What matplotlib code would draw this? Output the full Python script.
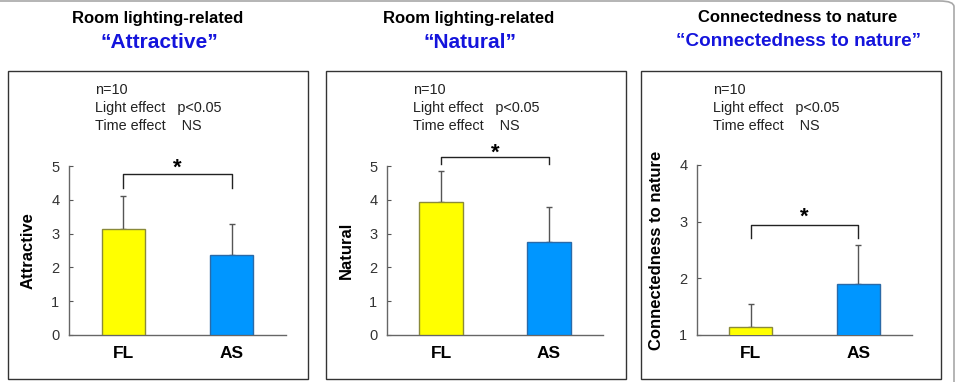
import matplotlib
matplotlib.use("Agg")
import matplotlib.pyplot as plt
from matplotlib.patches import Rectangle, FancyBboxPatch
import numpy as np

plt.rcParams['font.family'] = ['Liberation Sans', 'DejaVu Sans']

W, H = 959, 382

groups = ['FL', 'AS']
attractive_mean = [3.14, 2.37]
attractive_sd = [0.97, 0.90]
natural_mean = [3.93, 2.75]
natural_sd = [0.93, 1.04]
connect_mean = [1.15, 1.905]
connect_sd = [0.39, 0.685]

titles = ["Room lighting-related", "Room lighting-related", "Connectedness to nature"]
subtitles = ["\u201cAttractive\u201d", "\u201cNatural\u201d", "\u201cConnectedness to nature\u201d"]
subtitle_sizes = [15, 15, 13.6]
ylabels = ["Attractive", "Natural", "Connectedness to nature"]
means = [attractive_mean, natural_mean, connect_mean]
sds = [attractive_sd, natural_sd, connect_sd]
ylims = [(0, 5), (0, 5), (1, 4)]
yticks = [[0, 1, 2, 3, 4, 5], [0, 1, 2, 3, 4, 5], [1, 2, 3, 4]]
# bracket height, bracket drop, star y (data units)
brackets = [(4.76, 0.40, 4.93), (5.26, 0.21, 5.38), (2.94, 0.23, 3.08)]

bar_colors = ['#FFFF00', '#0096FF']
bar_edges = ['#8a8a3a', '#2a6aa8']

fig = plt.figure(figsize=(W / 100, H / 100), dpi=100)

def fx(px):
    return px / W

def fy(py):
    return 1 - py / H

# outer rounded frame (cut off left and bottom)
frame = FancyBboxPatch((fx(-20), fy(400)), fx(974), fy(1) - fy(400),
                       boxstyle="round,pad=0,rounding_size=0.015",
                       transform=fig.transFigure, fill=False,
                       edgecolor='#a8a8a8', linewidth=1.2)
fig.patches.append(frame)

boxes = [(8, 308), (326, 626), (641, 941)]
axes_px = [(69, 286, 166, 335), (387, 603, 166, 335), (697, 912, 165, 335)]
title_x = [158, 469, 798]
note_x = [95, 413, 713]

for i in range(3):
    bl, br = boxes[i]
    fig.patches.append(Rectangle((fx(bl), fy(379)), fx(br - bl), fy(71) - fy(379),
                                 transform=fig.transFigure, fill=False,
                                 edgecolor='#333333', linewidth=1.0))
    fig.text(fx(title_x[i]), fy(18), titles[i], ha='center', va='center',
             fontsize=12, fontweight='bold', color='black')
    fig.text(fx(title_x[i] + 1), fy(42), subtitles[i], ha='center', va='center',
             fontsize=subtitle_sizes[i], fontweight='bold', color='#1414DC')
    fig.text(fx(note_x[i]), fy(90), "n=10", ha='left', va='center', fontsize=10.4, color='#222222')
    fig.text(fx(note_x[i]), fy(108), "Light effect   p<0.05", ha='left', va='center', fontsize=10.4, color='#222222')
    fig.text(fx(note_x[i]), fy(126), "Time effect    NS", ha='left', va='center', fontsize=10.4, color='#222222')

    l, r, t, b = axes_px[i]
    ax = fig.add_axes([fx(l), fy(b), fx(r - l), fy(t) - fy(b)])
    x = np.arange(len(groups))
    ax.bar(x, means[i], width=0.4, color=bar_colors, edgecolor=bar_edges, linewidth=1.0, zorder=3)
    ax.errorbar(x, means[i], yerr=[np.zeros(len(groups)), sds[i]], fmt='none',
                ecolor='#555555', elinewidth=1.0, capsize=2, capthick=1.0, zorder=2)
    ax.set_xlim(-0.5, 1.5)
    ax.set_ylim(*ylims[i])
    ax.set_yticks(yticks[i])
    ax.set_xticks(x)
    ax.set_xticklabels(groups, fontsize=12.5, fontweight='bold')
    ax.tick_params(axis='x', length=0, pad=8)
    ax.tick_params(axis='y', direction='in', length=3, color='#555555',
                   labelsize=10.5, labelcolor='#333333', pad=7)
    for s in ['top', 'right']:
        ax.spines[s].set_visible(False)
    for s in ['left', 'bottom']:
        ax.spines[s].set_color('#666666')
        ax.spines[s].set_linewidth(1.0)
    ax.set_ylabel(ylabels[i], fontsize=12, fontweight='bold')
    ax.yaxis.set_label_coords(-0.155, 0.5)
    ax.patch.set_alpha(0)

    by, drop, sy = brackets[i]
    ax.plot([0, 0, 1, 1], [by - drop, by, by, by - drop], color='#222222', lw=1.0, clip_on=False)
    ax.text(0.5, sy, "*", ha='center', va='center', fontsize=16, fontweight='bold', clip_on=False)

fig.savefig("out.png", dpi=100, facecolor='white')
